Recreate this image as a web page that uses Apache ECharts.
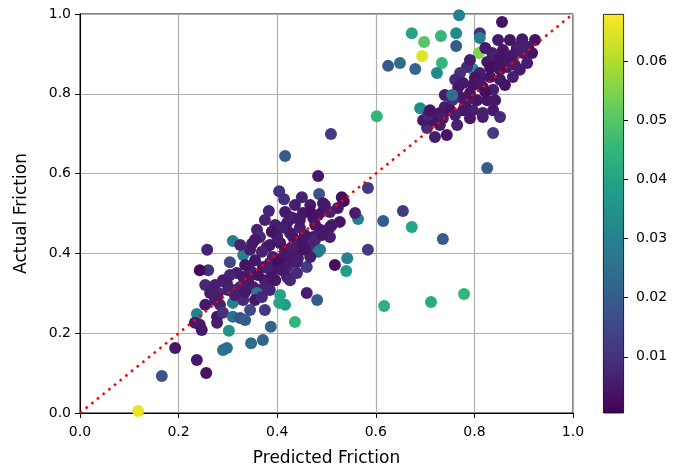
<!DOCTYPE html>
<html>
<head>
<meta charset="utf-8">
<script src="https://cdn.jsdelivr.net/npm/echarts@6/dist/echarts.min.js"></script>
<style>
  html, body { margin: 0; padding: 0; background: #fff; }
  #chart { width: 678px; height: 472px; }
</style>
</head>
<body>
<div id="chart"></div>
<script>
// predicted vs actual friction, colour = error
const predicted = [
  .118, .166, .193, .237, .256, .509, .602, .416, .615, .655, .673, .736, .617, .712, .779, .564, .436, .460, .481, .387,
  .347, .371, .290, .298, .302, .237, .243, .247, .483, .404, .414, .450, .485, .531, .535, .584, .383, .497, .493, .558,
  .527, .511, .487, .452, .432, .420, .359, .365, .310, .258, .331, .304, .260, .243, .254, .294, .318, .345, .385, .379,
  .406, .432, .446, .467, .483, .542, .540, .517, .584, .440, .420, .426, .460, .467, .493, .426, .473, .507, .507, .473,
  .452, .426, .400, .487, .440, .290, .304, .264, .280, .310, .339, .331, .351, .371, .391, .391, .412, .426, .420, .440,
  .365, .385, .406, .416, .404, .298, .325, .351, .379, .278, .284, .310, .331, .359, .278, .278, .290, .310, .325, .233,
  .335, .355, .375, .396, .345, .325, .385, .416, .456, .477, .446, .467, .436, .416, .396, .375, .355, .274, .355, .375,
  .345, .335,
  .341, .361, .381, .402, .422, .442, .456, .477, .491, .314, .335, .369, .389, .410, .430, .369, .349, .389, .410, .446,
  .467, .507, .523, .483, .300, .274, .254,
  .769, .856, .673, .698, .732, .763, .763, .694, .625, .649, .680, .734, .724, .809, .811, .811, .797, .690,
  .848, .872, .897, .923, .909, .886, .858, .836, .826, .846, .866, .878, .852, .832, .811, .785, .771, .761, .777, .797,
  .817, .838, .826, .805, .785, .771, .755, .740, .730, .751, .777, .797, .817, .838, .852, .838, .817, .791, .765, .744,
  .720, .704, .696, .716, .736, .706, .892, .907, .917, .878, .899, .866,
  .740, .767, .791, .811, .832, .852, .872, .892, .862, .842, .822, .801, .781, .761, .730, .710, .791, .822, .852, .882,
  .755, .826
];
const actual = [
  .005, .093, .163, .133, .100, .699, .744, .644, .481, .506, .466, .436, .268, .278, .298, .486, .228, .301, .283, .216,
  .175, .183, .158, .163, .206, .248, .221, .208, .594, .556, .536, .541, .549, .541, .531, .564, .506, .521, .506, .501,
  .479, .471, .459, .501, .489, .476, .459, .441, .431, .409, .396, .378, .358, .358, .321, .328, .351, .358, .376, .416,
  .426, .441, .426, .416, .404, .388, .356, .371, .409, .378, .366, .333, .366, .391, .526, .491, .489, .466, .441, .441,
  .434, .451, .441, .409, .409, .333, .346, .301, .301, .308, .316, .341, .351, .366, .358, .391, .391, .376, .341, .351,
  .308, .308, .296, .271, .276, .326, .316, .316, .316, .291, .271, .276, .283, .301, .241, .226, .251, .241, .238, .226,
  .371, .383, .333, .333, .409, .421, .421, .409, .446, .471, .464, .521, .521, .504, .471, .484, .434, .321, .283, .258,
  .258, .233,
  .333, .346, .363, .378, .396, .388, .409, .434, .446, .296, .303, .291, .341, .358, .416, .404, .424, .454, .464, .484,
  .504, .504, .514, .496, .308, .283, .271,
  .997, .980, .952, .930, .945, .952, .920, .895, .870, .877, .862, .877, .852, .902, .952, .940, .862, .764,
  .935, .935, .937, .935, .917, .915, .910, .902, .880, .877, .867, .842, .835, .842, .852, .867, .852, .835, .827, .822,
  .817, .810, .784, .784, .784, .792, .784, .767, .752, .759, .759, .759, .752, .759, .742, .702, .742, .739, .722, .697,
  .692, .714, .734, .734, .739, .747, .860, .877, .902, .897, .902, .892,
  .797, .815, .802, .835, .865, .860, .880, .922, .822, .784, .805, .840, .772, .747, .722, .759, .885, .915, .890, .872,
  .797, .614
];
const error = [
  .066, .018, .005, .005, .004, .012, .045, .020, .020, .012, .040, .020, .043, .042, .045, .030, .045, .006, .020, .022,
  .025, .022, .027, .025, .035, .030, .006, .005, .005, .010, .010, .007, .018, .003, .002, .012, .007, .006, .004, .006,
  .004, .006, .005, .005, .006, .005, .007, .008, .030, .007, .030, .015, .010, .002, .008, .006, .006, .007, .005, .006,
  .005, .004, .006, .007, .025, .030, .038, .003, .012, .006, .007, .008, .012, .006, .005, .006, .004, .005, .006, .005,
  .004, .005, .006, .028, .005, .006, .007, .006, .008, .007, .006, .005, .006, .005, .004, .006, .005, .006, .007, .008,
  .006, .007, .040, .038, .040, .006, .007, .006, .007, .006, .007, .030, .008, .028, .005, .006, .010, .025, .018, .005,
  .004, .005, .006, .005, .006, .007, .005, .004, .005, .004, .006, .005, .006, .005, .006, .007, .005, .006, .005, .012,
  .015, .020,
  .005, .004, .006, .003, .005, .006, .004, .007, .005, .006, .005, .008, .004, .005, .006, .007, .005, .004, .006, .005,
  .003, .006, .005, .004, .007, .006, .005,
  .030, .004, .040, .050, .045, .033, .020, .065, .020, .024, .022, .045, .033, .055, .010, .030, .035, .033,
  .005, .004, .005, .004, .006, .005, .004, .006, .005, .004, .005, .006, .005, .004, .006, .008, .010, .008, .005, .004,
  .005, .006, .005, .004, .006, .005, .010, .006, .005, .004, .005, .006, .007, .005, .008, .012, .006, .005, .007, .004,
  .006, .008, .005, .004, .006, .007, .005, .006, .004, .005, .006, .005,
  .006, .005, .004, .005, .003, .004, .005, .006, .004, .005, .003, .004, .005, .006, .005, .004, .006, .005, .004, .006,
  .025, .020
];
const diagonal = [0, 1];
const colorTicks = [0.01, 0.02, 0.03, 0.04, 0.05, 0.06];
const colorMin = 0.0005;
const colorMax = 0.068;
const viridis = ['#440154', '#482878', '#3e4a89', '#31688e', '#26828e', '#1f9e89', '#35b779', '#6ece58', '#b5de2b', '#fde725'];

const font = 'DejaVu Sans';
const chart = echarts.init(document.getElementById('chart'));

const points = predicted.map((x, i) => [x, actual[i], error[i]]);

const axisCommon = {
  type: 'value', min: 0, max: 1, interval: 0.2,
  nameLocation: 'middle',
  nameTextStyle: { fontFamily: font, fontSize: 17, color: '#000' },
  axisLine: { show: true, lineStyle: { color: '#000', width: 1 } },
  axisTick: { show: true, length: 5, lineStyle: { color: '#000' } },
  axisLabel: { fontFamily: font, fontSize: 14, color: '#000', margin: 9, formatter: v => v.toFixed(1) },
  splitLine: { show: true, lineStyle: { color: '#b0b0b0', width: 1.2 } }
};

chart.setOption({
  animation: false,
  backgroundColor: '#fff',
  grid: [
    { left: 80, right: 105, top: 14, bottom: 59, show: true, borderColor: '#000', borderWidth: 1 },
    { left: 603, width: 21, top: 14, height: 399 }
  ],
  xAxis: [
    Object.assign({}, axisCommon, {
      gridIndex: 0, name: 'Predicted Friction', nameGap: 37,
      axisLabel: Object.assign({}, axisCommon.axisLabel, { margin: 12 })
    }),
    { gridIndex: 1, type: 'category', data: ['c'], show: false }
  ],
  yAxis: [
    Object.assign({}, axisCommon, { gridIndex: 0, name: 'Actual Friction', nameGap: 50 }),
    {
      gridIndex: 1, type: 'value', position: 'right', min: colorMin, max: colorMax,
      axisLine: { show: false },
      splitLine: { show: false },
      axisTick: { show: true, length: 4, customValues: colorTicks, lineStyle: { color: '#000' } },
      axisLabel: {
        fontFamily: font, fontSize: 14, color: '#000', margin: 12,
        hideOverlap: false, showMinLabel: true, showMaxLabel: true,
        customValues: colorTicks, formatter: v => v.toFixed(2)
      }
    }
  ],
  visualMap: {
    type: 'continuous', show: false, seriesIndex: 0, dimension: 2,
    min: colorMin, max: colorMax,
    inRange: { color: viridis }
  },
  series: [
    {
      type: 'scatter',
      xAxisIndex: 0, yAxisIndex: 0,
      data: points,
      symbolSize: 12,
      itemStyle: { opacity: 1 },
      z: 2
    },
    {
      type: 'line',
      xAxisIndex: 0, yAxisIndex: 0,
      data: diagonal.map(v => [v, v]),
      showSymbol: false,
      lineStyle: { color: '#ff0000', width: 2.5, type: [2.5, 4.8] },
      z: 5
    },
    {
      type: 'bar',
      xAxisIndex: 1, yAxisIndex: 1,
      data: [colorMax],
      barWidth: '100%',
      itemStyle: {
        borderColor: '#000', borderWidth: 0.8,
        color: new echarts.graphic.LinearGradient(0, 1, 0, 0,
          viridis.map((c, i) => ({ offset: i / (viridis.length - 1), color: c })))
      }
    }
  ]
});
</script>
</body>
</html>
